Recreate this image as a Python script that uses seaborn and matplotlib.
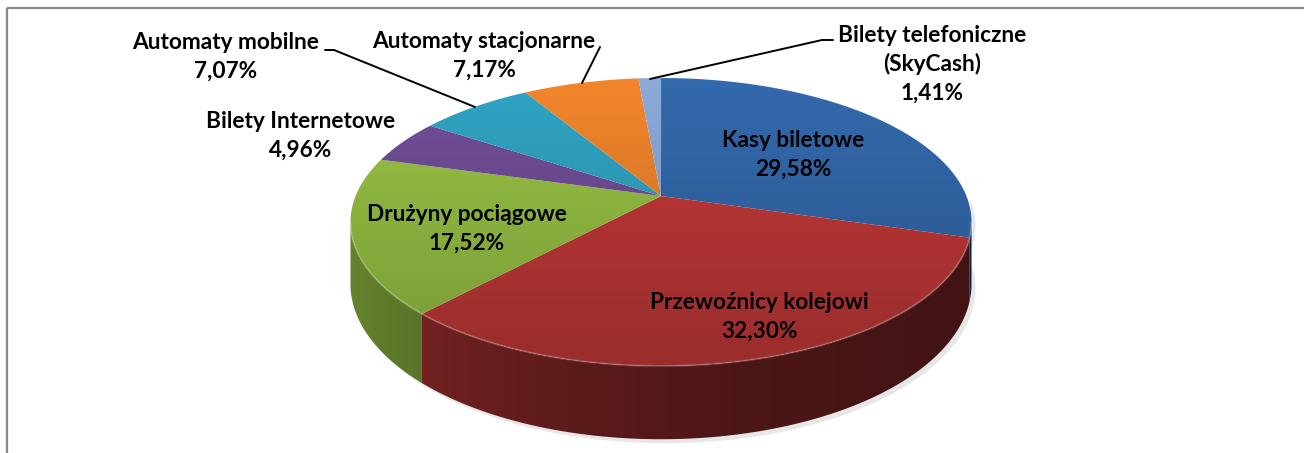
import numpy as np
import matplotlib
matplotlib.use("Agg")
import matplotlib.pyplot as plt
import seaborn as sns
from matplotlib.patches import Polygon, Rectangle

# ---------------- data ----------------
categories = ["Kasy biletowe", "Przewoźnicy kolejowi", "Drużyny pociągowe",
              "Bilety Internetowe", "Automaty mobilne", "Automaty stacjonarne",
              "Bilety telefoniczne\n(SkyCash)"]
shares = [29.58, 32.30, 17.52, 4.96, 7.07, 7.17, 1.41]
pct_labels = ["29,58%", "32,30%", "17,52%", "4,96%", "7,07%", "7,17%", "1,41%"]
slice_colors = ["#3268AA", "#C03838", "#96C044", "#704D96", "#2FA2C1", "#EE832B", "#8AA8D6"]

# ---------------- style ----------------
sns.set_theme(style="white")
plt.rcParams['font.family'] = ['Lato', 'DejaVu Sans']

W, H = 1304, 453
fig = plt.figure(figsize=(W / 100, H / 100), dpi=100)
ax = fig.add_axes([0, 0, 1, 1])
ax.set_xlim(0, W)
ax.set_ylim(H, 0)
ax.axis("off")

# perspective projection of the pie disc
X0, Y0 = 661.0, 196.0
A, B, P, D = 305.4, 139.3, 0.1806, 60.0


def proj(theta_deg, drop=0.0):
    t = np.radians(theta_deg)
    x, z = np.cos(t), np.sin(t)
    w = 1 + P * z
    return X0 + A * x / w, Y0 - B * z / w + drop * D / w


palette = sns.color_palette(slice_colors)
cum = np.concatenate([[0], np.cumsum(shares)])
starts = 90 - 3.6 * cum[:-1]
ends = 90 - 3.6 * cum[1:]

YT, YB = 78.0, 366.0


def fill_gradient(verts, color, kind, z):
    poly = Polygon(verts, closed=True, facecolor="none", edgecolor="none")
    ax.add_patch(poly)
    c = np.array(color)
    if kind == "top":
        ys = np.linspace(60, 380, 200)
        f = 1.02 - 0.22 * (ys - YT) / (YB - YT)
        img = np.clip(c[None, None, :] * f[:, None, None], 0, 1)
        img = np.repeat(img, 2, axis=1)
        ext = (330, 990, 380, 60)
    else:
        xs = np.linspace(330, 990, 300)
        f = 0.30 + 0.38 * np.exp(-(xs - 350) / 300.0)
        img = np.clip(c[None, None, :] * f[None, :, None], 0, 1)
        img = np.repeat(img, 2, axis=0)
        ext = (330, 990, 460, 200)
    im = ax.imshow(img, extent=ext, origin="upper", interpolation="bilinear",
                   aspect="auto", zorder=z)
    im.set_clip_path(poly)


# soft shadow
th = np.linspace(-180, 0, 200)
sx, sy = proj(th, 1.0)
tx, ty = proj(th[::-1], 0.0)
shadow = np.column_stack([np.concatenate([sx + 4, tx + 4]), np.concatenate([sy + 4, ty + 4])])
ax.add_patch(Polygon(shadow, closed=True, facecolor="#d8d8d8", edgecolor="none", alpha=0.6, zorder=1))

# side walls (only the visible front arc)
vis_lo, vis_hi = -180 + np.degrees(np.arcsin(P)), -np.degrees(np.arcsin(P))
for i, col in enumerate(palette):
    a0, a1 = max(ends[i], vis_lo), min(starts[i], vis_hi)
    if a1 <= a0:
        continue
    th = np.linspace(a0, a1, 120)
    x1, y1 = proj(th, 0.0)
    x2, y2 = proj(th[::-1], 1.0)
    verts = np.column_stack([np.concatenate([x1, x2]), np.concatenate([y1, y2])])
    fill_gradient(verts, col, "side", 2)

# top faces
for i, col in enumerate(palette):
    th = np.linspace(ends[i], starts[i], 200)
    x1, y1 = proj(th, 0.0)
    verts = np.column_stack([np.concatenate([[X0], x1]), np.concatenate([[Y0], y1])])
    fill_gradient(verts, col, "top", 3)

# rim highlight
th = np.linspace(vis_lo, vis_hi, 300)
rx, ry = proj(th, 0.0)
ax.plot(rx, ry, color="white", alpha=0.18, lw=1.5, zorder=4)

# labels
label_pos = [(793, 155), (759, 317), (467, 229), (301, 136), (226, 57), (484, 56), (932, 64)]
for i, (x, y) in enumerate(label_pos):
    ax.text(x, y, categories[i] + "\n" + pct_labels[i], ha="center", va="center",
            multialignment="center", fontsize=16.3, fontweight="bold", color="black",
            linespacing=1.42, zorder=6)

# leader lines
ax.plot([325, 334, 475], [50, 50, 107], color="black", lw=1.4, zorder=5)
ax.plot([600, 582], [47, 83], color="black", lw=1.4, zorder=5)
ax.plot([833, 822, 650], [40, 40, 79], color="black", lw=1.4, zorder=5)

# chart frame
ax.add_patch(Rectangle((7, 8), W + 20, H + 20, facecolor="none", edgecolor="#8a8a8a", lw=1.6, zorder=7))

ax.set_xlim(0, W)
ax.set_ylim(H, 0)
fig.savefig("out.png", dpi=100)
